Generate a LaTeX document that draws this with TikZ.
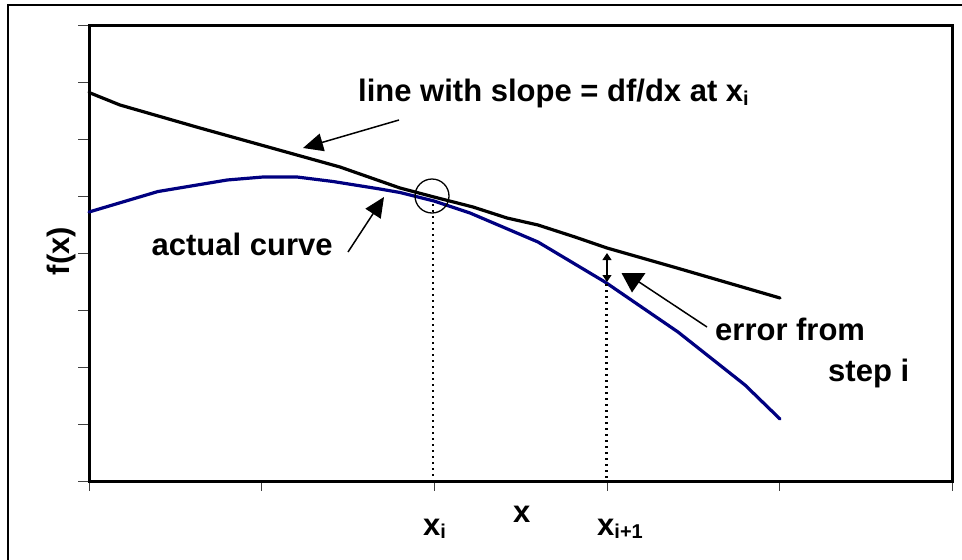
\documentclass[tikz,border=0pt]{standalone}
\usepackage{fontspec}
\setmainfont{Liberation Sans}
\usetikzlibrary{arrows.meta}
\newcommand{\sbs}[1]{\raisebox{-3.5pt}{\fontsize{20}{20}\selectfont #1}}
\definecolor{curveblue}{RGB}{0,0,128}
\begin{document}
\begin{tikzpicture}[x=1pt,y=-1pt,
  lbl/.style={font=\fontsize{31}{36}\selectfont\bfseries, inner sep=0pt, anchor=base west},
  bigarrow/.style={line width=1.5pt, -{Triangle[length=20pt,width=18pt]}},
  tick/.style={line width=0.9pt, black!75},
  frame/.style={line width=3pt, line cap=rect},
  curve/.style={line width=3.2pt, line join=round, line cap=round},
  dotline/.style={line width=2.4pt, dash pattern=on 2.2pt off 3.8pt}]
\useasboundingbox (0,0) rectangle (962,560);
% outer border
\draw[line width=2pt] (8,562) -- (8,4.5) -- (964,4.5);
% ticks
\foreach \k in {0,...,8} \draw[tick] (78,25+\k*57.06) -- (89,25+\k*57.06);
\foreach \k in {0,...,5} \draw[tick] (89+\k*172.7,481.5) -- (89+\k*172.7,491);
% plot frame
\draw[frame] (89,25) rectangle (952.5,481.5);
% tangent line
\draw[curve] (89,92.5) -- (120,105) -- (200,128) -- (340,167) -- (400,188) -- (434,197)
  -- (473,207) -- (507,218) -- (538,225) -- (575,237) -- (607,248) -- (677,268) -- (780,298);
% actual curve
\draw[curve, curveblue] (89,212) -- (158,191.5) -- (227,180) -- (263,177) -- (297,177)
  -- (333,181.5) -- (380,189) -- (400,192.5) -- (434,201) -- (470,213) -- (538,242)
  -- (605,282) -- (678,332) -- (745,385) -- (780,419);
% dotted verticals
\coordinate (xi) at (433,204);
\coordinate (xib) at (433,481);
\coordinate (xj) at (606.5,284);
\coordinate (xjb) at (606.5,481);
\draw[dotline] (xi) -- (xib);
\draw[dotline] (xj) -- (xjb);
% circle
\node[draw, circle, line width=1.3pt, minimum size=34pt, inner sep=0pt] (circ) at (432,196) {};
% error double arrow
\coordinate (eTop) at (607,253);
\coordinate (eBot) at (607,282);
\draw[line width=1.1pt, {Triangle[length=7pt,width=9pt]}-{Triangle[length=7pt,width=9pt]}] (eTop) -- (eBot);
% labels
\node[lbl] (slope) at (358,101.7) {line with slope = df/dx at x\sbs{i}};
\node[lbl] (actual) at (151.5,255.5) {actual curve};
\node[lbl] (err1) at (715,340) {error from};
\node[lbl] (err2) at (828,381.7) {step i};
\node[lbl, anchor=center, rotate=90] (fx) at (61,251) {f(x)};
\node[lbl] (xlab) at (513,522.7) {x};
\node[lbl] (xilab) at (423,535) {x\sbs{i}};
\node[lbl] (xjlab) at (597,535) {x\sbs{i+1}};
% arrows
\coordinate (sStart) at (399,120);
\coordinate (sTip) at (303,148);
\draw[bigarrow] (sStart) -- (sTip);
\coordinate (aStart) at (348,252);
\coordinate (aTip) at (384,197);
\draw[bigarrow] (aStart) -- (aTip);
\coordinate (eStart) at (707,327);
\coordinate (eEnd) at (636,280);
\draw[line width=1.5pt] (eStart) -- (eEnd);
\fill (621.5,273) -- (645.5,273) -- (632,292.5) -- cycle;
\end{tikzpicture}
\end{document}
